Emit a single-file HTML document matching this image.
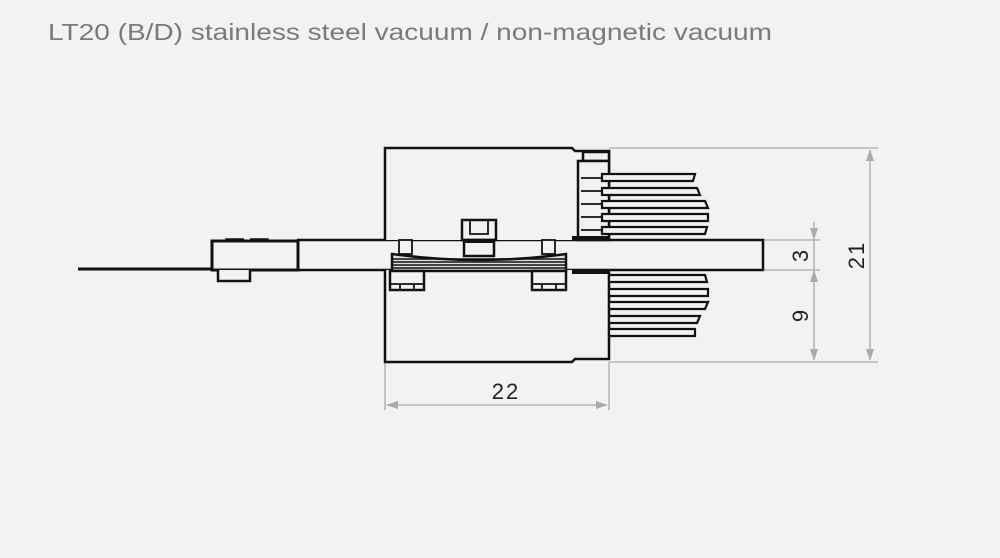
<!DOCTYPE html>
<html><head><meta charset="utf-8"><style>
html,body{margin:0;padding:0;background:#f2f2f2;}
svg{display:block}
</style></head><body>
<svg width="1000" height="558" viewBox="0 0 1000 558" xmlns="http://www.w3.org/2000/svg">
<rect width="1000" height="558" fill="#f2f2f2"/>
<text x="48" y="40" font-family="Liberation Sans, sans-serif" font-size="23" fill="#7a7a7a" textLength="724" lengthAdjust="spacingAndGlyphs">LT20 (B/D) stainless steel vacuum / non-magnetic vacuum</text>

<g stroke="#aaa" stroke-width="1.3" fill="none">
<line x1="609" y1="148" x2="878" y2="148"/>
<line x1="609" y1="362" x2="878" y2="362"/>
<line x1="870" y1="150" x2="870" y2="360"/>
<line x1="763" y1="240" x2="820" y2="240"/>
<line x1="763" y1="270" x2="820" y2="270"/>
<line x1="814" y1="222" x2="814" y2="360"/>
<line x1="385" y1="362" x2="385" y2="410"/>
<line x1="609" y1="362" x2="609" y2="410"/>
<line x1="387" y1="405" x2="607" y2="405"/>
</g>
<g fill="#aaa">
<polygon points="870,149 866,161 874,161"/>
<polygon points="870,361 866,349 874,349"/>
<polygon points="814,240 810,228 818,228"/>
<polygon points="814,270 810,282 818,282"/>
<polygon points="814,361 810,349 818,349"/>
<polygon points="386,405 398,401 398,409"/>
<polygon points="608,405 596,401 596,409"/>
</g>
<g font-family="Liberation Sans, sans-serif" font-size="22" fill="#222" text-anchor="middle">
<text x="506" y="399" letter-spacing="2">22</text>
<text transform="translate(808,256) rotate(-90)">3</text>
<text transform="translate(808,316) rotate(-90)">9</text>
<text transform="translate(864,255) rotate(-90)" letter-spacing="2">21</text>
</g>

<g stroke="#111" stroke-width="2.5" fill="#f2f2f2">
<line x1="78" y1="269" x2="212" y2="269" stroke-width="3"/>
<rect x="298" y="240" width="465" height="30"/>
<rect x="212" y="241" width="86" height="29" stroke-width="3"/>
<path d="M226,241 V239 H244 M250,239 H268 V241" fill="none" stroke-width="1.5"/>
<path d="M218,270 V281 H250 V270" fill="#f2f2f2"/>
<path d="M385,240 V148 H572 L575,151 H609 V240"/>
<rect x="583" y="152" width="26" height="9"/>
<path d="M578,161 H609 V240 H578 Z"/>
<path d="M385,270 V362 H572 L575,359 H609 V270"/>
<rect x="572" y="270" width="37" height="4" fill="#111" stroke="none"/>
<rect x="572" y="236" width="37" height="4" fill="#111" stroke="none"/>
<g stroke-width="2.2">
<path d="M602,174 H695 L693,181 H602 Z"/>
<path d="M602,188 H697 L700,195 H602 Z"/>
<path d="M602,201 H705 L708,208 H602 Z"/>
<path d="M602,214 H708 L708,221 H602 Z"/>
<path d="M602,227 H707 L705,234 H602 Z"/>
<g stroke-width="1.8">
<line x1="581" y1="178" x2="602" y2="178"/>
<line x1="581" y1="191" x2="602" y2="191"/>
<line x1="581" y1="204" x2="602" y2="204"/>
<line x1="581" y1="217" x2="602" y2="217"/>
<line x1="581" y1="230" x2="602" y2="230"/>
</g>
<path d="M609,275 H705 L707,282 H609 Z"/>
<path d="M609,289 H708 L708,296 H609 Z"/>
<path d="M609,302 H708 L705,309 H609 Z"/>
<path d="M609,316 H700 L697,323 H609 Z"/>
<path d="M609,329 H695 L695,336 H609 Z"/>
</g>
<rect x="462" y="220" width="34" height="20"/>
<path d="M470,220 V234 H488 V220" fill="none" stroke-width="1.8"/>
<rect x="464" y="240" width="30" height="16"/>
<rect x="464" y="239" width="30" height="4" fill="#111" stroke="none"/>
<rect x="399" y="240" width="13" height="14" stroke-width="1.8"/>
<rect x="542" y="240" width="13" height="14" stroke-width="1.8"/>
<path d="M392,254 Q479,266 566,254 V271 H392 Z" fill="#ddd"/>
<g stroke-width="1.5">
<line x1="392" y1="259" x2="566" y2="259"/>
<line x1="392" y1="262" x2="566" y2="262"/>
<line x1="392" y1="265" x2="566" y2="265"/>
<line x1="392" y1="268" x2="566" y2="268"/>
</g>
<rect x="390" y="271" width="34" height="19"/>
<path d="M390,284 H424 M400,284 V290 M414,284 V290" fill="none" stroke-width="1.8"/>
<rect x="532" y="271" width="34" height="19"/>
<path d="M532,284 H566 M542,284 V290 M556,284 V290" fill="none" stroke-width="1.8"/>
</g>
</svg>
</body></html>
